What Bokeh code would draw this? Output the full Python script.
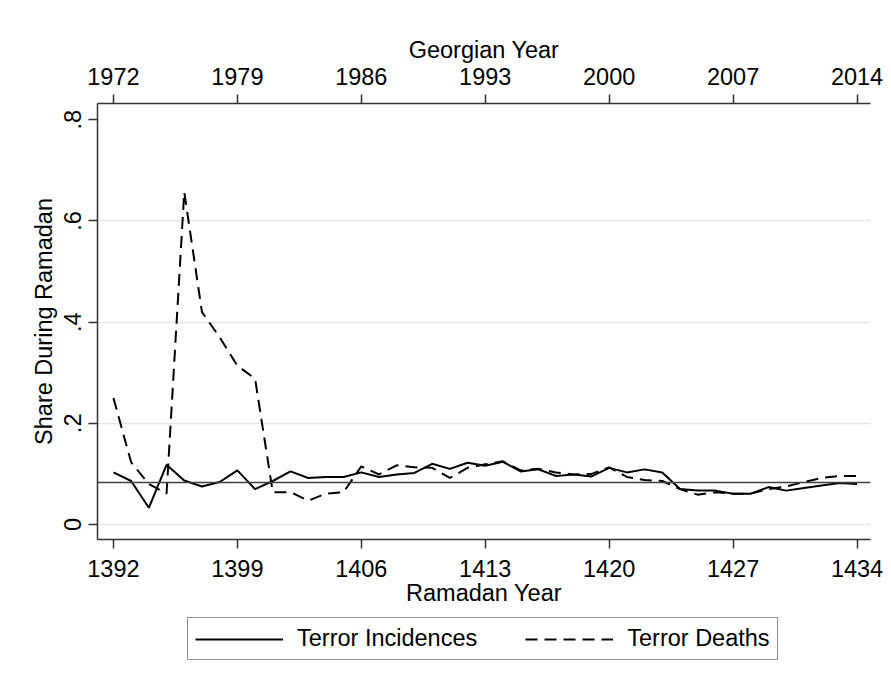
from bokeh.plotting import figure
from bokeh.layouts import column
from bokeh.models import Range1d, LinearAxis, FixedTicker, Span, Legend, LegendItem
from bokeh.embed import file_html
from bokeh.resources import INLINE

# ---- data ----
ramadan_years = [1392, 1393, 1394, 1395, 1396, 1397, 1398, 1399, 1400, 1401,
                 1402, 1403, 1404, 1405, 1406, 1407, 1408, 1409, 1410, 1411,
                 1412, 1413, 1414, 1415, 1416, 1417, 1418, 1419, 1420, 1421,
                 1422, 1423, 1424, 1425, 1426, 1427, 1428, 1429, 1430, 1431,
                 1432, 1433, 1434]
terror_incidences = [0.103, 0.086, 0.033, 0.118, 0.087, 0.075, 0.084, 0.107, 0.070, 0.086,
                     0.105, 0.092, 0.094, 0.094, 0.103, 0.094, 0.099, 0.102, 0.120, 0.110,
                     0.122, 0.116, 0.124, 0.105, 0.109, 0.096, 0.099, 0.095, 0.112, 0.103,
                     0.109, 0.103, 0.070, 0.067, 0.067, 0.061, 0.061, 0.074, 0.067, 0.072,
                     0.077, 0.082, 0.080]
terror_deaths = [0.250, 0.123, 0.080, 0.061, 0.657, 0.420, 0.370, 0.314, 0.288, 0.064,
                 0.064, 0.047, 0.061, 0.064, 0.115, 0.099, 0.117, 0.113, 0.112, 0.092,
                 0.112, 0.119, 0.125, 0.107, 0.110, 0.103, 0.099, 0.100, 0.113, 0.094,
                 0.088, 0.086, 0.070, 0.059, 0.064, 0.061, 0.061, 0.070, 0.075, 0.084,
                 0.092, 0.096, 0.096]
overall_share = 0.083

ramadan_ticks = [1392, 1399, 1406, 1413, 1420, 1427, 1434]
georgian_labels = ["1972", "1979", "1986", "1993", "2000", "2007", "2014"]
y_ticks = [0, 0.2, 0.4, 0.6, 0.8]
y_labels = ["0", ".2", ".4", ".6", ".8"]
grid_ticks = [0, 0.2, 0.4, 0.6]
series_labels = ["Terror Incidences", "Terror Deaths"]

FONT = "Liberation Sans"
FS = "23.5px"
AX = "#333333"
DASH = "12 7"

p = figure(frame_width=773, frame_height=436,
           min_border_left=97, min_border_right=19, min_border_top=103, min_border_bottom=70,
           x_range=Range1d(1391.1, 1434.76), y_range=Range1d(-0.0296, 0.832),
           output_backend="svg", toolbar_location=None)
p.outline_line_color = None
p.background_fill_color = "white"
p.border_fill_color = "white"

def style_axis(ax, ticks, standoff, label_standoff):
    ax.ticker = FixedTicker(ticks=ticks)
    ax.major_tick_out = 9
    ax.major_tick_in = 0
    ax.minor_tick_line_color = None
    ax.axis_line_color = AX
    ax.axis_line_width = 1.5
    ax.major_tick_line_color = AX
    ax.major_tick_line_width = 1.5
    ax.major_label_text_font = FONT
    ax.major_label_text_font_size = FS
    ax.major_label_text_color = "black"
    ax.major_label_standoff = standoff
    ax.axis_label_text_font = FONT
    ax.axis_label_text_font_size = FS
    ax.axis_label_text_font_style = "normal"
    ax.axis_label_text_color = "black"
    ax.axis_label_standoff = label_standoff

xb = p.xaxis[0]
style_axis(xb, ramadan_ticks, 11, 0)
xb.axis_label = "Ramadan Year"

yl = p.yaxis[0]
style_axis(yl, y_ticks, 7, 5)
yl.axis_label = "Share During Ramadan"
yl.major_label_orientation = "vertical"
yl.major_label_overrides = {t: s for t, s in zip(y_ticks, y_labels)}

xt = LinearAxis()
style_axis(xt, ramadan_ticks, 10, 2)
xt.axis_label = "Georgian Year"
xt.major_label_overrides = {t: s for t, s in zip(ramadan_ticks, georgian_labels)}
p.add_layout(xt, "above")

p.xgrid.grid_line_color = None
p.ygrid.ticker = FixedTicker(ticks=grid_ticks)
p.ygrid.grid_line_color = "#e6e6e6"
p.ygrid.grid_line_width = 1.5

p.add_layout(Span(location=overall_share, dimension="width",
                  line_color="#404040", line_width=1.6))

p.line(ramadan_years, terror_incidences, line_color="black", line_width=2)
p.line(ramadan_years, terror_deaths, line_color="black", line_width=2, line_dash=DASH)

# ---- legend strip below the chart (series drawn out of view; only legend shows) ----
lf = figure(width=889, height=66, min_border=0,
            x_range=Range1d(0, 1), y_range=Range1d(0, 1),
            x_axis_type=None, y_axis_type=None,
            output_backend="svg", toolbar_location=None)
lf.outline_line_color = None
lf.xgrid.grid_line_color = None
lf.ygrid.grid_line_color = None
lf.background_fill_color = "white"
lf.border_fill_color = "white"
lr1 = lf.line(ramadan_years, terror_incidences, line_color="black", line_width=2)
lr2 = lf.line(ramadan_years, terror_deaths, line_color="black", line_width=2, line_dash=DASH)

legend = Legend(items=[LegendItem(label=series_labels[0], renderers=[lr1]),
                       LegendItem(label=series_labels[1], renderers=[lr2])],
                orientation="horizontal", location=(90, 15),
                border_line_color="#222222", border_line_width=1.5,
                background_fill_color="white", background_fill_alpha=1.0,
                padding=7, spacing=48, label_standoff=14,
                glyph_width=88, glyph_height=20,
                label_text_font=FONT, label_text_font_size=FS,
                label_text_color="black",
                margin=0)
lf.add_layout(legend, "center")

layout = column(p, lf, spacing=0)
open("out.html", "w").write(file_html(layout, INLINE))
